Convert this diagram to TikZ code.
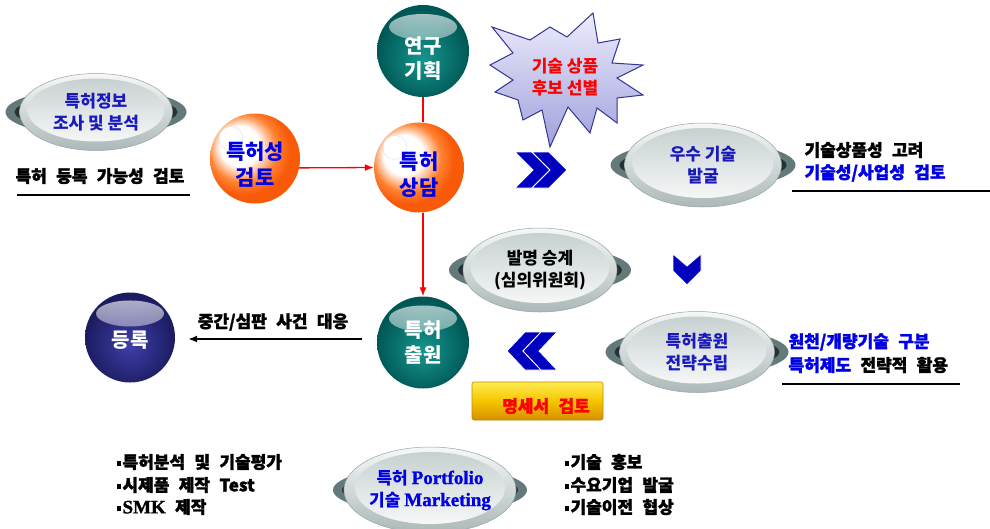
\documentclass[tikz,border=0pt]{standalone}
\usepackage{fontspec}
\newfontfamily\kr{Noto Sans CJK KR}
\newfontfamily\krh{Noto Sans CJK KR}[BoldFeatures={FakeBold=1.6}]
\newfontfamily\tms{Liberation Serif}[UprightFeatures={FakeBold=1.2},BoldFeatures={FakeBold=1.2}]
\usetikzlibrary{fadings,calc,arrows.meta,shapes.geometric}
\definecolor{dishblue}{RGB}{25,25,190}
\definecolor{tblue}{RGB}{0,0,230}
\definecolor{chev}{RGB}{0,0,190}
\definecolor{tealA}{RGB}{22,150,142}
\definecolor{tealB}{RGB}{0,88,86}
\definecolor{navyA}{RGB}{62,62,168}
\definecolor{navyB}{RGB}{28,28,98}
\definecolor{orA}{RGB}{255,130,50}
\definecolor{orB}{RGB}{248,90,8}
\definecolor{handleC}{RGB}{100,122,122}
\definecolor{handleD}{RGB}{35,50,50}
\definecolor{rimT}{RGB}{246,248,248}
\definecolor{rimB}{RGB}{172,184,184}
\definecolor{rimD}{RGB}{150,162,162}
\definecolor{inT}{RGB}{196,206,206}
\definecolor{inB}{RGB}{252,252,252}
\definecolor{goldT}{RGB}{255,236,80}
\definecolor{goldM}{RGB}{245,198,0}
\definecolor{goldB}{RGB}{214,142,0}
\definecolor{goldD}{RGB}{196,136,0}
\definecolor{burstT}{RGB}{236,236,252}
\definecolor{burstB}{RGB}{160,160,220}
\definecolor{burstD}{RGB}{52,52,150}
\pgfdeclareradialshading{tealball}{\pgfpoint{0bp}{-5bp}}{color(0bp)=(tealA); color(25bp)=(tealB); color(50bp)=(tealB)}
\pgfdeclareradialshading{navyball}{\pgfpoint{0bp}{-5bp}}{color(0bp)=(navyA); color(25bp)=(navyB); color(50bp)=(navyB)}
\pgfdeclareradialshading{orangeball}{\pgfpoint{-11bp}{9bp}}{color(0bp)=(white); color(11bp)=(white); color(19bp)=(orA); color(25bp)=(orB); color(50bp)=(orB)}
\tikzfading[name=hlfade, top color=transparent!30, bottom color=transparent!100]
\newcommand\sqb{\raisebox{2.5pt}{\rule{4.5pt}{4.5pt}}\hspace{1.5pt}}
\newcommand\lat[1]{{\tms\bfseries\fontsize{19}{22}\selectfont #1}}
\newcommand\dishat[7]{%
  \fill[handleC] (#2,#3) ellipse ({#4pt+14pt} and 24pt);
  \fill[handleD] (#2,#3) ellipse ({#4pt+5pt} and 17pt);
  \node[dishs, minimum width={2*#4pt}, minimum height={2*#5pt},
    path picture={\shade[top color=inT, bottom color=inB] ($(path picture bounding box.center)+(0,-2)$) ellipse ({#4pt-8pt} and {#5pt-7pt});}, #6] (#1) at (#2,#3) {#7};
}
\begin{document}
\begin{tikzpicture}[x=1pt,y=-1pt,
  hfont/.style={font={\krh\bfseries\fontsize{17}{21}\selectfont\spaceskip=0.55em\relax}},
  dfont/.style={font={\kr\bfseries\fontsize{17}{22}\selectfont}},
  bfont/.style={font={\kr\bfseries\fontsize{20}{25}\selectfont}},
  ofont/.style={font={\kr\bfseries\fontsize{21}{26}\selectfont}},
  ball/.style={circle, inner sep=0pt, minimum size=#1},
  hl/.style={path picture={\fill[white, path fading=hlfade] ($(path picture bounding box.center)+(0,-24)$) ellipse (34pt and 13pt);}},
  tealb/.style={ball=92pt, shading=tealball, hl},
  navyb/.style={ball=90pt, shading=navyball, hl},
  orangeb/.style={ball=90pt, shading=orangeball, path picture={\filldraw[fill=white, draw=black!12, line width=0.4pt] ($(path picture bounding box.center)+(-24,-20)$) circle (12pt);}},
  balltext/.style={bfont, align=center},
  dishs/.style={ellipse, inner sep=0pt, align=center, top color=rimT, bottom color=rimB, draw=rimD, line width=0.5pt, dfont, text=dishblue},
  redline/.style={red, line width=1.3pt},
  redarrow/.style={redline, -{Latex[length=9pt,width=7pt]}},
  uline/.style={black, line width=1.8pt},
  chevron/.style={fill=chev, draw=white, line width=0.8pt},
  goldbox/.style={rectangle, rounded corners=2pt, minimum width=131pt, minimum height=38pt, top color=goldT, bottom color=goldB, middle color=goldM, draw=goldD, line width=0.6pt}
]
\useasboundingbox[fill=white] (0,0) rectangle (990,528);

% dishes
\dishat{d1}{96}{112}{76.5}{38.5}{}{특허정보\\조사 및 분석}
\dishat{d2}{703}{165}{78.5}{42}{}{우수 기술\\발굴}
\dishat{d3}{540}{270}{77}{42}{text=black}{발명 승계\\(심의위원회)}
\dishat{d4}{697}{352}{77.5}{40.5}{}{특허출원\\전략수립}
\dishat{d5}{430}{490}{83}{43}{text=tblue}{특허 \lat{Portfolio}\\기술 \lat{Marketing}}

% balls
\node[tealb] (yk) at (423,51) {};
\node[balltext, text=white] (ykt) at ([yshift=-8pt]yk.center) {연구\\기획};
\node[orangeb] (sg) at (255,158.5) {};
\node[balltext, ofont, text=tblue] (sgt) at ([yshift=-6pt]sg.center) {특허성\\검토};
\node[orangeb] (sd) at (419,167.5) {};
\node[balltext, ofont, text=tblue] (sdt) at ([yshift=-7pt]sd.center) {특허\\상담};
\node[tealb] (ch) at (423,342.5) {};
\node[balltext, text=white] (cht) at (ch.center) {특허\\출원};
\node[navyb] (dr) at (130,337.5) {};
\node[balltext, text=white] (drt) at ([yshift=-3pt]dr.center) {등록};

% connectors
\draw[redline] (yk.south) -- (yk.south |- sd.north);
\draw[redarrow] (sg.-12) -- (sd.west);
\draw[redarrow] (sd.south -| ch.north) -- (ch.north);
\coordinate (bs) at (362,339);
\draw[line width=1.5pt, -{Latex[length=9pt,width=7pt]}, shorten >=13pt] (bs) -- (bs -| dr.east);
\node[hfont] (mid) at (273,322) {중간/심판 사건 대응};

% starburst
\path[draw=burstD, line width=1pt, top color=burstT, bottom color=burstB]
 (593,13) -- (598,43) -- (620,39) -- (612,63) -- (643,65) -- (617,78) -- (643,95) -- (617,98) -- (617,123) -- (597,108) -- (590,133) -- (568,107) -- (550,147) -- (542,110) -- (523,120) -- (518,100) -- (495,92) -- (513,80) -- (490,65) -- (513,53) -- (492,27) -- (530,40) -- (550,27) -- (567,37) -- cycle;
\node[dfont, text=red, align=center] (sb) at (565,77) {기술 상품\\후보 선별};

% chevrons
\foreach \x in {515,532} \filldraw[chevron] (\x,152) -- ++(17,0) -- ++(18,18) -- ++(-18,18) -- ++(-17,0) -- ++(18,-18) -- cycle;
\foreach \x in {507,523} \filldraw[chevron] (\x,351) -- ++(18,-19) -- ++(16,0) -- ++(-18,19) -- ++(18,19) -- ++(-16,0) -- cycle;
\filldraw[chevron] (673,254) -- (687,266) -- (701,254) -- (701,271) -- (687,285) -- (673,271) -- cycle;

% side texts
\node[hfont] (l0) at (100,176) {특허 등록 가능성 검토};
\draw[uline] (17,195) -- (190,195);
\node[hfont, anchor=west] (r1) at (801,150) {기술상품성 고려};
\node[hfont, anchor=west, text=tblue] (r2) at (801,173) {기술성/사업성 검토};
\draw[uline] (792,191) -- (990,191);
\node[hfont, anchor=west, text=tblue] (r3) at (785,342) {원천/개량기술 구분};
\node[hfont, anchor=west] (r4) at (785,365) {\textcolor{tblue}{특허제도} 전략적 활용};
\draw[uline] (782,384) -- (960,384);

% gold box
\node[goldbox] (msb) at (537.5,401) {};
\node[hfont, text=red] (ms) at (546,406) {명세서 검토};

% lists
\node[hfont, anchor=west] (a1) at (113,462) {\sqb 특허분석 및 기술평가};
\node[hfont, anchor=west] (a2) at (113,485) {\sqb 시제품 제작 Test};
\node[hfont, anchor=west] (a3) at (113,507) {\sqb\lat{SMK} 제작};
\node[hfont, anchor=west] (b1) at (561,462) {\sqb 기술 홍보};
\node[hfont, anchor=west] (b2) at (561,485) {\sqb 수요기업 발굴};
\node[hfont, anchor=west] (b3) at (561,507) {\sqb 기술이전 협상};
\end{tikzpicture}
\end{document}
